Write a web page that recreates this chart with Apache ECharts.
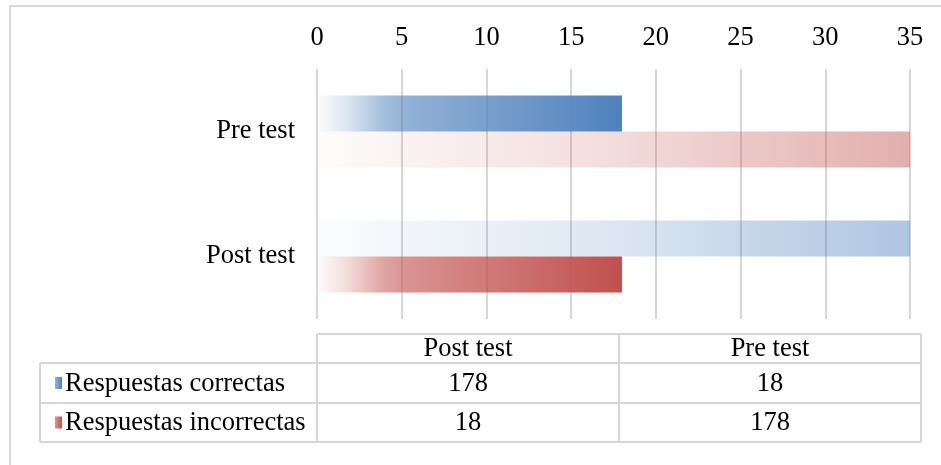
<!DOCTYPE html>
<html><head><meta charset="utf-8">
<script src="https://cdn.jsdelivr.net/npm/echarts@6/dist/echarts.min.js"></script>
<style>html,body{margin:0;padding:0;background:#fff}#c{width:941px;height:465px}</style>
</head><body><div id="c"></div>
<script>
// ---- data ----
const categories = ['Post test', 'Pre test'];
const seriesNames = ['Respuestas correctas', 'Respuestas incorrectas'];
const correctas = [178, 18];
const incorrectas = [18, 178];
const xMin = 0, xMax = 35, xInterval = 5;

// ---- style ----
const FONT = '"Liberation Serif", "Times New Roman", serif';
const FS = 26.5;
const BLUE = [79, 129, 189], RED = [192, 80, 77];
const ALPHA_STOPS = [[0, 0.02], [0.1, 0.2], [0.22, 0.52], [0.3, 0.62], [1, 1]];
const GRID_COLOR = '#D6D6D6';

function alphaAt(t) {
  for (let i = 1; i < ALPHA_STOPS.length; i++) {
    const [t0, a0] = ALPHA_STOPS[i - 1], [t1, a1] = ALPHA_STOPS[i];
    if (t <= t1) return a0 + (a1 - a0) * (t - t0) / (t1 - t0);
  }
  return 1;
}
function gradient(rgb, value) {
  const f = Math.min(1, xMax / value);
  const ts = [0, ...ALPHA_STOPS.map(s => s[0]).filter(t => t > 0 && t < f), f];
  return {
    type: 'linear', x: 0, y: 0, x2: 1, y2: 0,
    colorStops: ts.map(t => ({ offset: t / f, color: `rgba(${rgb.join(',')},${alphaAt(t).toFixed(3)})` }))
  };
}

// ---- table geometry ----
const T = { left: 40, colStart: 317, right: 921, top: 334, row1: 363, row2: 403, bottom: 442 };
const colW = (T.right - T.colStart) / categories.length;
const graphic = [];
function line(x1, y1, x2, y2, color, w) {
  graphic.push({ type: 'line', silent: true, shape: { x1, y1, x2, y2 }, style: { stroke: color || GRID_COLOR, lineWidth: w || 2 } });
}
function text(x, y, t, align) {
  graphic.push({ type: 'text', silent: true, x, y, style: { text: t, font: `${FS}px ${FONT}`, fill: '#000', align: align || 'center', verticalAlign: 'middle' } });
}
// chart area border
line(9, 6, 941, 6, '#D9D9D9', 2);
line(10, 6, 10, 465, '#D9D9D9', 2);
// table lines
line(T.colStart, T.top, T.right, T.top);
line(T.left, T.row1, T.right, T.row1);
line(T.left, T.row2, T.right, T.row2);
line(T.left, T.bottom, T.right, T.bottom);
line(T.left, T.row1, T.left, T.bottom);
for (let i = 0; i <= categories.length; i++) line(T.colStart + colW * i, T.top, T.colStart + colW * i, T.bottom);
// header
categories.forEach((c, i) => text(T.colStart + colW * (i + 0.5), (T.top + T.row1) / 2 + 1, c));
// rows
const rows = [[seriesNames[0], correctas, BLUE], [seriesNames[1], incorrectas, RED]];
const rowY = [[T.row1, T.row2], [T.row2, T.bottom]];
rows.forEach((r, k) => {
  const yc = (rowY[k][0] + rowY[k][1]) / 2;
  graphic.push({ type: 'rect', silent: true, shape: { x: 55, y: yc - 6, width: 7, height: 12 },
    style: { fill: { type: 'linear', x: 0, y: 0, x2: 1, y2: 0, colorStops: [
      { offset: 0, color: `rgba(${r[2].join(',')},0.6)` }, { offset: 1, color: `rgba(${r[2].join(',')},1)` }] } } });
  text(65, yc + 1, r[0], 'left');
  r[1].forEach((v, i) => text(T.colStart + colW * (i + 0.5), yc + 1, String(v)));
});

const chart = echarts.init(document.getElementById('c'), null, { renderer: 'canvas' });
chart.setOption({
  animation: false,
  backgroundColor: '#fff',
  textStyle: { fontFamily: FONT },
  grid: { left: 317, right: 31, top: 69, bottom: 146, containLabel: false },
  xAxis: {
    type: 'value', position: 'top', min: xMin, max: xMax, interval: xInterval,
    axisLine: { show: false }, axisTick: { show: false },
    axisLabel: { fontFamily: FONT, fontSize: FS, color: '#000', margin: 17 },
    splitLine: { show: true, lineStyle: { color: GRID_COLOR, width: 2 } }
  },
  yAxis: {
    type: 'category', data: categories,
    axisLine: { show: false }, axisTick: { show: false },
    axisLabel: { fontFamily: FONT, fontSize: FS, color: '#000', margin: 22 },
    splitLine: { show: false }
  },
  series: [
    { name: seriesNames[0], type: 'bar', barWidth: 36, barGap: '0%', clip: true,
      data: correctas.map(v => ({ value: v, itemStyle: { color: gradient(BLUE, v) } })) },
    { name: seriesNames[1], type: 'bar', barWidth: 36, barGap: '0%', clip: true,
      data: incorrectas.map(v => ({ value: v, itemStyle: { color: gradient(RED, v) } })) }
  ],
  graphic: graphic
});
</script>
</body></html>
